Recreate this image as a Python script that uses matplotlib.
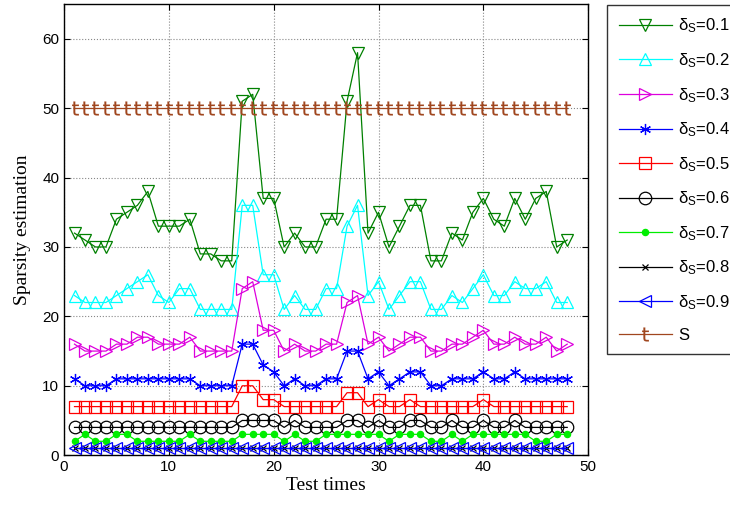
# Sparsity estimation for different delta_S thresholds against the true sparsity S

import matplotlib
matplotlib.use("Agg")
import matplotlib.pyplot as plt

plt.rcParams["font.family"] = ["Liberation Sans", "DejaVu Sans"]
plt.rcParams["mathtext.fontset"] = "custom"
plt.rcParams["mathtext.rm"] = "Liberation Sans"
plt.rcParams["mathtext.it"] = "Liberation Sans"

test_times = list(range(1, 49))

est_01 = [32, 31, 30, 30, 34, 35, 36, 38, 33, 33,
          33, 34, 29, 29, 28, 28, 51, 52, 37, 37,
          30, 32, 30, 30, 34, 34, 51, 58, 32, 35,
          30, 33, 36, 36, 28, 28, 32, 31, 35, 37,
          34, 33, 37, 34, 37, 38, 30, 31]
est_02 = [23, 22, 22, 22, 23, 24, 25, 26, 23, 22,
          24, 24, 21, 21, 21, 21, 36, 36, 26, 26,
          21, 23, 21, 21, 24, 24, 33, 36, 23, 25,
          21, 23, 25, 25, 21, 21, 23, 22, 24, 26,
          23, 23, 25, 24, 24, 25, 22, 22]
est_03 = [16, 15, 15, 15, 16, 16, 17, 17, 16, 16,
          16, 17, 15, 15, 15, 15, 24, 25, 18, 18,
          15, 16, 15, 15, 16, 16, 22, 23, 16, 17,
          15, 16, 17, 17, 15, 15, 16, 16, 17, 18,
          16, 16, 17, 16, 16, 17, 15, 16]
est_04 = [11, 10, 10, 10, 11, 11, 11, 11, 11, 11,
          11, 11, 10, 10, 10, 10, 16, 16, 13, 12,
          10, 11, 10, 10, 11, 11, 15, 15, 11, 12,
          10, 11, 12, 12, 10, 10, 11, 11, 11, 12,
          11, 11, 12, 11, 11, 11, 11, 11]
est_05 = [7, 7, 7, 7, 7, 7, 7, 7, 7, 7,
          7, 7, 7, 7, 7, 7, 10, 10, 8, 8,
          7, 7, 7, 7, 7, 7, 9, 9, 7, 8,
          7, 7, 8, 7, 7, 7, 7, 7, 7, 8,
          7, 7, 7, 7, 7, 7, 7, 7]
est_06 = [4, 4, 4, 4, 4, 4, 4, 4, 4, 4,
          4, 4, 4, 4, 4, 4, 5, 5, 5, 5,
          4, 5, 4, 4, 4, 4, 5, 5, 4, 5,
          4, 4, 5, 5, 4, 4, 5, 4, 4, 5,
          4, 4, 5, 4, 4, 4, 4, 4]
est_07 = [2, 3, 2, 2, 3, 3, 2, 2, 2, 2,
          2, 3, 2, 2, 2, 2, 3, 3, 3, 3,
          2, 3, 2, 2, 3, 3, 3, 3, 3, 3,
          2, 3, 3, 3, 2, 2, 3, 2, 3, 3,
          3, 3, 3, 3, 2, 2, 3, 3]
est_08 = [1] * 48
est_09 = [1] * 48
true_s = [50] * 48

labels = [r"$\delta_{\mathrm{S}}$=0.1", r"$\delta_{\mathrm{S}}$=0.2", r"$\delta_{\mathrm{S}}$=0.3",
          r"$\delta_{\mathrm{S}}$=0.4", r"$\delta_{\mathrm{S}}$=0.5", r"$\delta_{\mathrm{S}}$=0.6",
          r"$\delta_{\mathrm{S}}$=0.7", r"$\delta_{\mathrm{S}}$=0.8", r"$\delta_{\mathrm{S}}$=0.9", "S"]

# (series, colour, marker, size, filled, edge width)
styles = [
    (est_01, "#008000", "v", 9, False, 0.9),
    (est_02, "#00ffff", "^", 9, False, 0.9),
    (est_03, "#dd00dd", ">", 9, False, 0.9),
    (est_04, "#0000ff", (6, 2, 0), 8, True, 0.9),
    (est_05, "#ff0000", "s", 9, False, 0.9),
    (est_06, "#000000", "o", 9, False, 0.9),
    (est_07, "#00ee00", "o", 4.5, True, 0.9),
    (est_08, "#000000", "x", 4, True, 0.9),
    (est_09, "#0000ff", "<", 9, False, 0.9),
    (true_s, "#a0461e", r"$\mathsf{t}$", 10, True, 0.1),
]

fig = plt.figure(figsize=(7.3, 5.12), dpi=100)
ax = fig.add_axes([0.0877, 0.111, 0.718, 0.881])

for (vals, col, mk, ms, filled, mew), lab in zip(styles, labels):
    ax.plot(test_times, vals, color=col, marker=mk, markersize=ms, lw=0.9,
            markerfacecolor=col if filled else "none", markeredgecolor=col,
            markeredgewidth=mew, label=lab)

ax.set_xlim(0, 50)
ax.set_ylim(0, 65)
ax.set_xticks([0, 10, 20, 30, 40, 50])
ax.set_yticks([0, 10, 20, 30, 40, 50, 60])
ax.grid(True, color="#888888", linestyle=":", linewidth=0.8)
ax.tick_params(direction="in", top=True, right=True, labelsize=11, length=4)
for sp in ax.spines.values():
    sp.set_linewidth(1.0)

ax.set_xlabel("Test times", family=["Liberation Serif"], fontsize=14, labelpad=2)
ax.set_ylabel("Sparsity estimation", family=["Liberation Serif"], fontsize=14, labelpad=8)

leg = ax.legend(loc="upper left", bbox_to_anchor=(0.8315, 0.99),
                bbox_transform=fig.transFigure, fontsize=12, frameon=True,
                fancybox=False, edgecolor="black", handlelength=3.2,
                labelspacing=0.95, borderpad=0.7, handletextpad=0.35,
                borderaxespad=0.0)
leg.get_frame().set_linewidth(1.0)

fig.savefig("out.png", dpi=100)
